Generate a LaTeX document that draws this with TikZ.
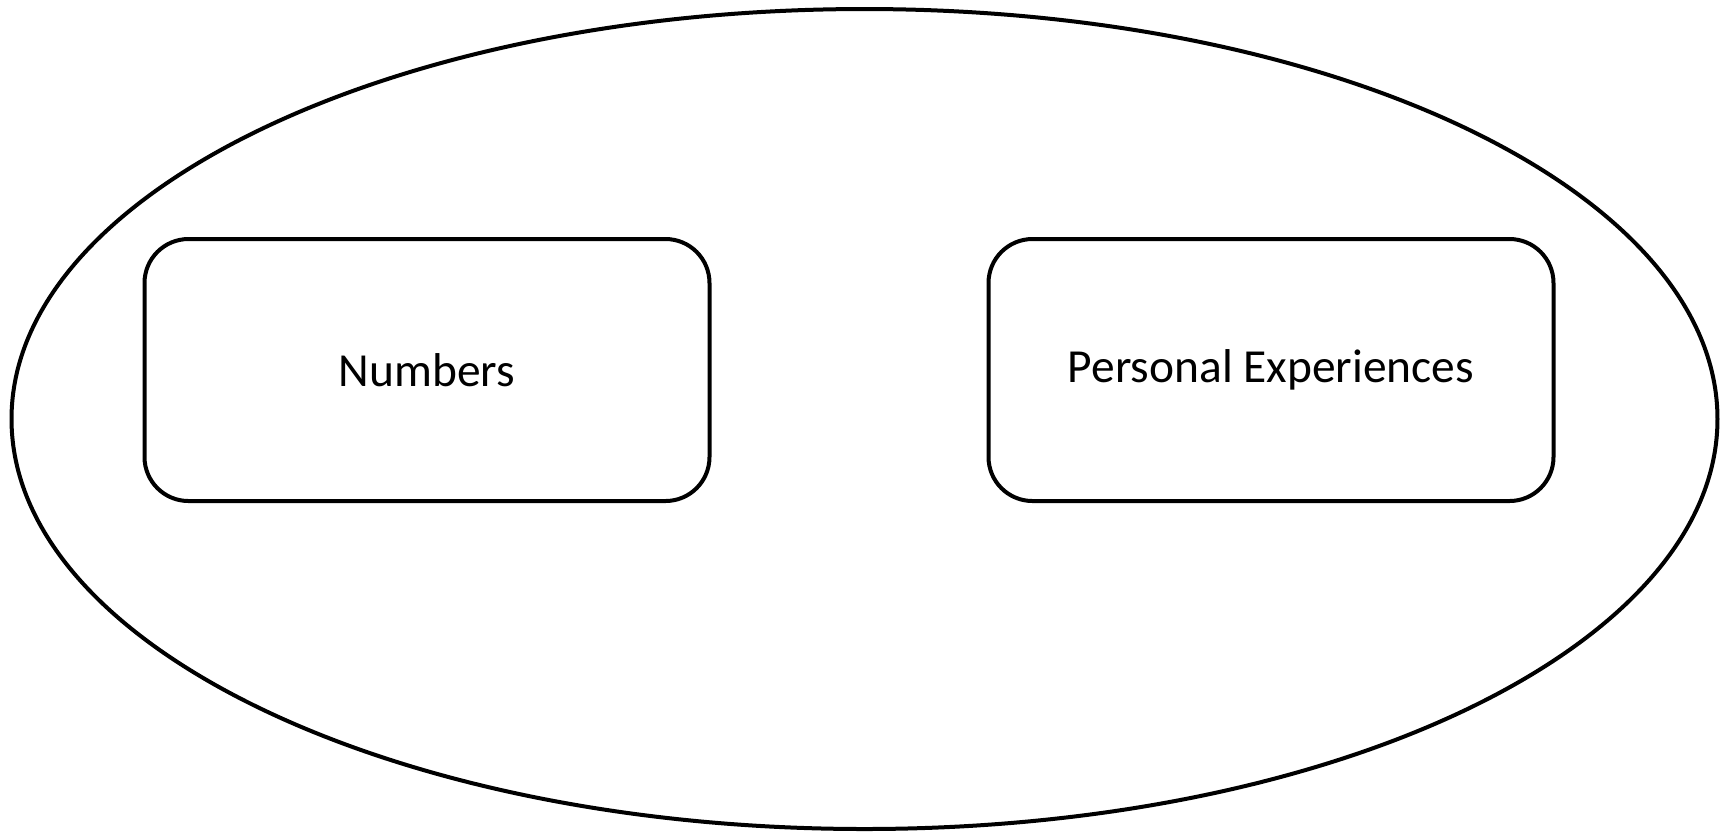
\documentclass[tikz,border=0pt]{standalone}
\usepackage{fontspec}
\setmainfont{Carlito}
\usepackage{tikz}
\usetikzlibrary{shapes.geometric}

\tikzset{
    topic/.style = {draw, rounded corners=4.4mm, line width=0.4mm, minimum width=56.5mm, minimum height=26.2mm, inner sep=0pt, align=center, font=\fontsize{13.5}{16}\selectfont},
    group/.style = {draw, ellipse, line width=0.4mm, minimum width=170.6mm, minimum height=82mm, inner sep=0pt}
}

\begin{document}
\begin{tikzpicture}[x=0.1mm, y=-0.1mm]
                    \useasboundingbox (0,0) rectangle (1721,832);
                    \draw
                        (864.5, 419.0) node[group](G){}
                        (427.0, 370.0) node[topic](N){Numbers}
                        (1271.0, 370.0) node[topic](P){Personal Experiences}
                    ;
                \end{tikzpicture}
\end{document}
